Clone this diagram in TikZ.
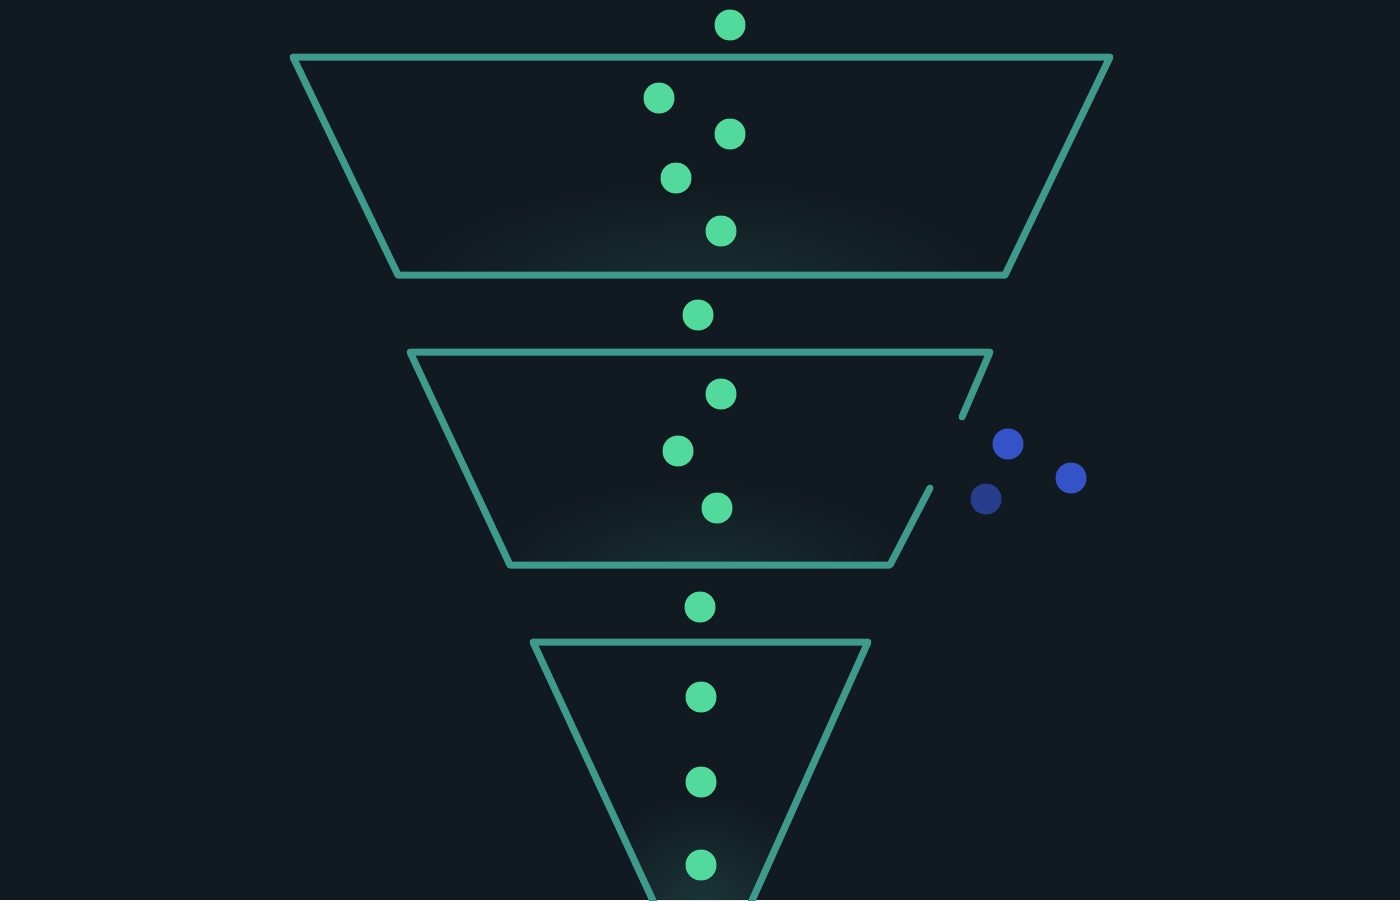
\documentclass[tikz,border=0pt]{standalone}
\usetikzlibrary{shapes.geometric,fadings}
\definecolor{bg}{HTML}{111A20}
\definecolor{edge}{HTML}{3E9A8A}
\definecolor{dotg}{HTML}{52DA9C}
\definecolor{dotb}{HTML}{3553C9}
\definecolor{dotd}{HTML}{283E8C}
\definecolor{glow}{HTML}{1C3A3A}
\tikzfading[name=myglow, inner color=transparent!0, outer color=transparent!100]
\tikzset{
  funnel/.style={draw=edge, line width=7pt, line join=round, line cap=round},
  gdot/.style={circle, fill=dotg, draw=none, minimum size=31pt, inner sep=0pt},
  bdot/.style={circle, fill=dotb, draw=none, minimum size=31pt, inner sep=0pt},
  ddot/.style={circle, fill=dotd, draw=none, minimum size=31pt, inner sep=0pt},
  glowy/.style={fill=glow, path fading=myglow}
}
\begin{document}
\begin{tikzpicture}[x=1pt,y=-1pt]
\fill[bg] (0,0) rectangle (1400,900);
\useasboundingbox (0,0) rectangle (1400,900);
% faint glows
\begin{scope}
\clip (293,57) -- (1110,57) -- (1005,275) -- (398,275) -- cycle;
\fill[glowy, opacity=0.7] (700,290) ellipse (300 and 110);
\end{scope}
\begin{scope}
\clip (410,352) -- (990,352) -- (890,565) -- (510,565) -- cycle;
\fill[glowy, opacity=0.7] (700,580) ellipse (220 and 100);
\end{scope}
\begin{scope}
\clip (533,642) -- (868,642) -- (752,900) -- (655,900) -- cycle;
\fill[glowy, opacity=0.9] (702,905) ellipse (120 and 110);
\end{scope}
% funnels
\draw[funnel] (293,57) -- (1110,57) -- (1005,275) -- (398,275) -- cycle;
\draw[funnel] (962,417) -- (990,352) -- (410,352) -- (510,565) -- (890,565) -- (930,488);
\draw[funnel] (655,905) -- (533,642) -- (868,642) -- (750,905);
% green dots
\node[gdot] (g1) at (730,25) {};
\node[gdot] (g2) at (659,98) {};
\node[gdot] (g3) at (730,134) {};
\node[gdot] (g4) at (676,178) {};
\node[gdot] (g5) at (721,231) {};
\node[gdot] (g6) at (698,315) {};
\node[gdot] (g7) at (721,394) {};
\node[gdot] (g8) at (678,451) {};
\node[gdot] (g9) at (717,508) {};
\node[gdot] (g10) at (700,607) {};
\node[gdot] (g11) at (701,697) {};
\node[gdot] (g12) at (701,782) {};
\node[gdot] (g13) at (701,865) {};
% blue dots
\node[bdot] (b1) at (1008,444) {};
\node[bdot] (b2) at (1071,478) {};
\node[ddot] (b3) at (986,499) {};
\end{tikzpicture}
\end{document}
